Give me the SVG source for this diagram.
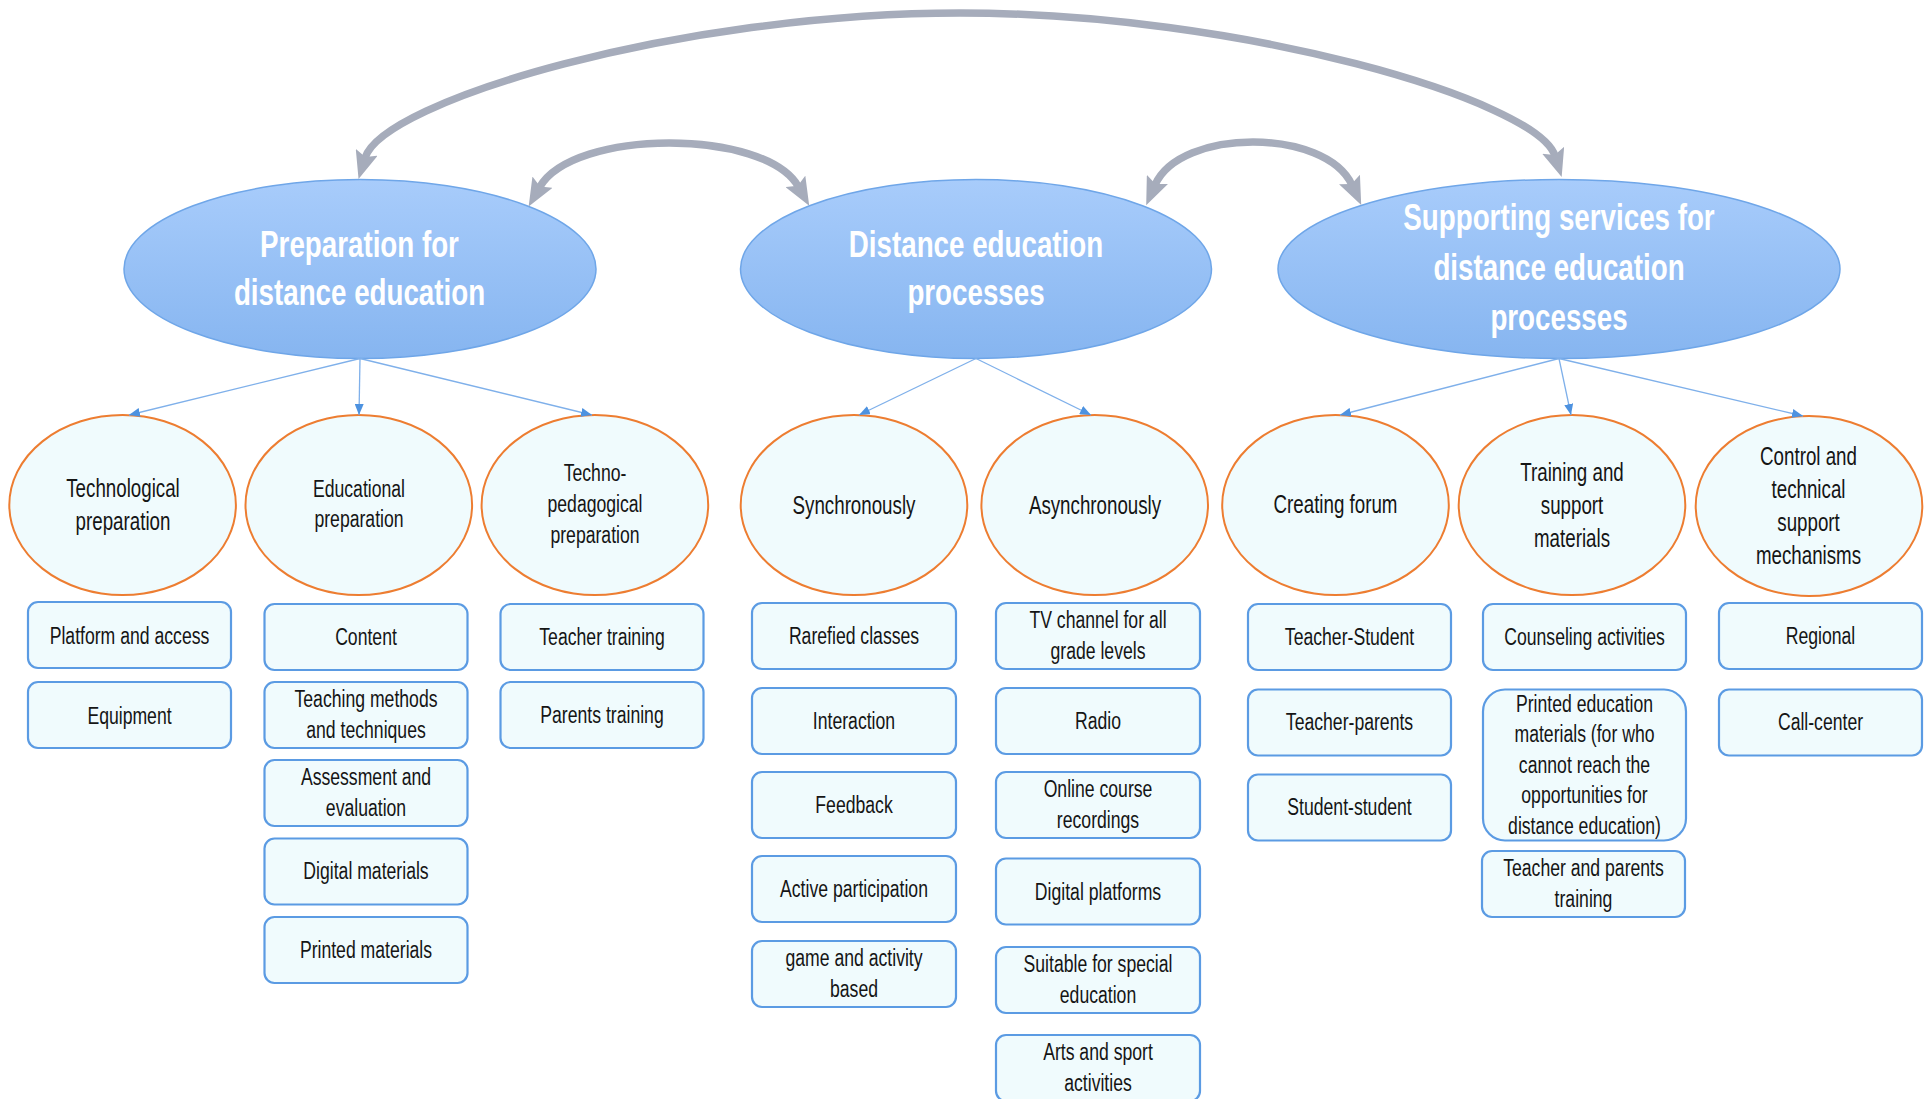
<svg xmlns="http://www.w3.org/2000/svg" width="1925" height="1099" viewBox="0 0 1925 1099">
<defs>
<linearGradient id="gMain" x1="0" y1="0" x2="0" y2="1">
<stop offset="0" stop-color="#a8ccfb"/>
<stop offset="1" stop-color="#86b5f0"/>
</linearGradient>
<marker id="gh" markerUnits="userSpaceOnUse" markerWidth="29" markerHeight="23" refX="6" refY="11.5" orient="auto-start-reverse" viewBox="0 0 29 23">
<path d="M0,0 L28,11.5 L0,23 L5,11.5 Z" fill="#a6acbb"/>
</marker>
<marker id="ah" markerUnits="userSpaceOnUse" markerWidth="11" markerHeight="9" refX="11" refY="4.5" orient="auto" viewBox="0 0 11 9">
<path d="M0,0 L11,4.5 L0,9 Z" fill="#4d92e0"/>
</marker>
</defs>
<style>
text { font-family: "Liberation Sans", Arial, sans-serif; text-anchor: middle; fill: #151515; }
.hdr { font-weight: bold; font-size: 37px; fill: #ffffff; }
.ct { font-size: 25px; }
.cs { font-size: 23.5px; }
.bt { font-size: 23.5px; }
.main { fill: url(#gMain); stroke: #6fa6e8; stroke-width: 1.5; }
.sub { fill: #f0fbfd; stroke: #ed7d31; stroke-width: 2; }
.box { fill: #f0fbfd; stroke: #5b9be3; stroke-width: 2.2; }
.link { stroke: #7fb0ea; stroke-width: 1.3; fill: none; marker-end: url(#ah); }
.big { stroke: #a6acbb; stroke-width: 7.5; fill: none; marker-start: url(#gh); marker-end: url(#gh); }
</style>
<rect width="1925" height="1099" fill="#ffffff"/>

<!-- Main ellipses -->
<g id="prep">
<ellipse class="main" cx="360" cy="269" rx="236" ry="89.5"/>
<g transform="translate(359.5 0) scale(0.75 1)"><text class="hdr" x="0" y="256.7">Preparation for</text><text class="hdr" x="0" y="305">distance education</text></g>
</g>
<g id="process">
<ellipse class="main" cx="976" cy="269" rx="235.5" ry="89.5"/>
<g transform="translate(976 0) scale(0.75 1)"><text class="hdr" x="0" y="256.7">Distance education</text><text class="hdr" x="0" y="305">processes</text></g>
</g>
<g id="support">
<ellipse class="main" cx="1559" cy="269" rx="281" ry="89.5"/>
<g transform="translate(1559 0) scale(0.75 1)"><text class="hdr" x="0" y="230">Supporting services for</text><text class="hdr" x="0" y="280">distance education</text><text class="hdr" x="0" y="330">processes</text></g>
</g>

<!-- Sub circles -->
<g id="c-tech">
<ellipse class="sub" cx="122.6" cy="505" rx="113.3" ry="90"/>
<g transform="translate(123 0) scale(0.75 1)"><text class="ct" x="0" y="497">Technological</text><text class="ct" x="0" y="530">preparation</text></g>
</g>
<g id="c-edu">
<ellipse class="sub" cx="358.8" cy="505" rx="113.3" ry="90"/>
<g transform="translate(359 0) scale(0.75 1)"><text class="cs" x="0" y="497">Educational</text><text class="cs" x="0" y="527.5">preparation</text></g>
</g>
<g id="c-techped">
<ellipse class="sub" cx="594.9" cy="505" rx="113.3" ry="90"/>
<g transform="translate(595 0) scale(0.75 1)"><text class="cs" x="0" y="481.5">Techno-</text><text class="cs" x="0" y="512.5">pedagogical</text><text class="cs" x="0" y="543">preparation</text></g>
</g>
<g id="c-sync">
<ellipse class="sub" cx="854" cy="505" rx="113.3" ry="90"/>
<g transform="translate(854 0) scale(0.75 1)"><text class="ct" x="0" y="514">Synchronously</text></g>
</g>
<g id="c-async">
<ellipse class="sub" cx="1094.7" cy="505" rx="113.3" ry="90"/>
<g transform="translate(1095 0) scale(0.75 1)"><text class="ct" x="0" y="514.5">Asynchronously</text></g>
</g>
<g id="c-forum">
<ellipse class="sub" cx="1335.5" cy="505" rx="113.3" ry="90"/>
<g transform="translate(1335.5 0) scale(0.75 1)"><text class="ct" x="0" y="513">Creating forum</text></g>
</g>
<g id="c-training">
<ellipse class="sub" cx="1572" cy="505" rx="113.3" ry="90"/>
<g transform="translate(1572 0) scale(0.75 1)"><text class="ct" x="0" y="481">Training and</text><text class="ct" x="0" y="514">support</text><text class="ct" x="0" y="547">materials</text></g>
</g>
<g id="c-control">
<ellipse class="sub" cx="1809" cy="506" rx="113.3" ry="90"/>
<g transform="translate(1808.5 0) scale(0.75 1)"><text class="ct" x="0" y="465.5">Control and</text><text class="ct" x="0" y="498.5">technical</text><text class="ct" x="0" y="531.5">support</text><text class="ct" x="0" y="564.5">mechanisms</text></g>
</g>

<!-- Column 1 boxes -->
<g id="b-platform"><rect class="box" x="28" y="602" width="203" height="66" rx="10"/><g transform="translate(129.5 0) scale(0.75 1)"><text class="bt" x="0" y="644">Platform and access</text></g></g>
<g id="b-equipment"><rect class="box" x="28" y="682" width="203" height="66" rx="10"/><g transform="translate(129.5 0) scale(0.75 1)"><text class="bt" x="0" y="724">Equipment</text></g></g>

<!-- Column 2 boxes -->
<g id="b-content"><rect class="box" x="264.5" y="604" width="203" height="66" rx="10"/><g transform="translate(366 0) scale(0.75 1)"><text class="bt" x="0" y="645">Content</text></g></g>
<g id="b-teaching"><rect class="box" x="264.5" y="682" width="203" height="66" rx="10"/><g transform="translate(366 0) scale(0.75 1)"><text class="bt" x="0" y="707.5">Teaching methods</text><text class="bt" x="0" y="738.3">and techniques</text></g></g>
<g id="b-assess"><rect class="box" x="264.5" y="760" width="203" height="66" rx="10"/><g transform="translate(366 0) scale(0.75 1)"><text class="bt" x="0" y="785.5">Assessment and</text><text class="bt" x="0" y="816.3">evaluation</text></g></g>
<g id="b-digital"><rect class="box" x="264.5" y="838.5" width="203" height="66" rx="10"/><g transform="translate(366 0) scale(0.75 1)"><text class="bt" x="0" y="879.5">Digital materials</text></g></g>
<g id="b-printed"><rect class="box" x="264.5" y="917" width="203" height="66" rx="10"/><g transform="translate(366 0) scale(0.75 1)"><text class="bt" x="0" y="958">Printed materials</text></g></g>

<!-- Column 3 boxes -->
<g id="b-teacher"><rect class="box" x="500.5" y="604" width="203" height="66" rx="10"/><g transform="translate(602 0) scale(0.75 1)"><text class="bt" x="0" y="645">Teacher training</text></g></g>
<g id="b-parents"><rect class="box" x="500.5" y="682" width="203" height="66" rx="10"/><g transform="translate(602 0) scale(0.75 1)"><text class="bt" x="0" y="723">Parents training</text></g></g>

<!-- Column 4 boxes -->
<g id="b-rarefied"><rect class="box" x="752" y="603" width="204" height="66" rx="10"/><g transform="translate(854 0) scale(0.75 1)"><text class="bt" x="0" y="644.5">Rarefied classes</text></g></g>
<g id="b-interaction"><rect class="box" x="752" y="688" width="204" height="66" rx="10"/><g transform="translate(854 0) scale(0.75 1)"><text class="bt" x="0" y="729.5">Interaction</text></g></g>
<g id="b-feedback"><rect class="box" x="752" y="772" width="204" height="66" rx="10"/><g transform="translate(854 0) scale(0.75 1)"><text class="bt" x="0" y="813.5">Feedback</text></g></g>
<g id="b-active"><rect class="box" x="752" y="856" width="204" height="66" rx="10"/><g transform="translate(854 0) scale(0.75 1)"><text class="bt" x="0" y="897.5">Active participation</text></g></g>
<g id="b-game"><rect class="box" x="752" y="941" width="204" height="66" rx="10"/><g transform="translate(854 0) scale(0.75 1)"><text class="bt" x="0" y="966.5">game and activity</text><text class="bt" x="0" y="997.3">based</text></g></g>

<!-- Column 5 boxes -->
<g id="b-tv"><rect class="box" x="996" y="603" width="204" height="66" rx="10"/><g transform="translate(1098 0) scale(0.75 1)"><text class="bt" x="0" y="628.5">TV channel for all</text><text class="bt" x="0" y="659.3">grade levels</text></g></g>
<g id="b-radio"><rect class="box" x="996" y="688" width="204" height="66" rx="10"/><g transform="translate(1098 0) scale(0.75 1)"><text class="bt" x="0" y="729.5">Radio</text></g></g>
<g id="b-online"><rect class="box" x="996" y="772" width="204" height="66" rx="10"/><g transform="translate(1098 0) scale(0.75 1)"><text class="bt" x="0" y="797.5">Online course</text><text class="bt" x="0" y="828.3">recordings</text></g></g>
<g id="b-platforms"><rect class="box" x="996" y="858.5" width="204" height="66" rx="10"/><g transform="translate(1098 0) scale(0.75 1)"><text class="bt" x="0" y="900">Digital platforms</text></g></g>
<g id="b-special"><rect class="box" x="996" y="947" width="204" height="66" rx="10"/><g transform="translate(1098 0) scale(0.75 1)"><text class="bt" x="0" y="972.5">Suitable for special</text><text class="bt" x="0" y="1003.3">education</text></g></g>
<g id="b-arts"><rect class="box" x="996" y="1035" width="204" height="66" rx="10"/><g transform="translate(1098 0) scale(0.75 1)"><text class="bt" x="0" y="1060.5">Arts and sport</text><text class="bt" x="0" y="1091.3">activities</text></g></g>

<!-- Column 6 boxes -->
<g id="b-ts"><rect class="box" x="1248" y="604" width="203" height="66" rx="10"/><g transform="translate(1349.5 0) scale(0.75 1)"><text class="bt" x="0" y="645">Teacher-Student</text></g></g>
<g id="b-tp"><rect class="box" x="1248" y="689.5" width="203" height="66" rx="10"/><g transform="translate(1349.5 0) scale(0.75 1)"><text class="bt" x="0" y="730.5">Teacher-parents</text></g></g>
<g id="b-ss"><rect class="box" x="1248" y="774.5" width="203" height="66" rx="10"/><g transform="translate(1349.5 0) scale(0.75 1)"><text class="bt" x="0" y="815.5">Student-student</text></g></g>

<!-- Column 7 boxes -->
<g id="b-counsel"><rect class="box" x="1483" y="604" width="203" height="66" rx="10"/><g transform="translate(1584.5 0) scale(0.75 1)"><text class="bt" x="0" y="645">Counseling activities</text></g></g>
<g id="b-printed-edu"><rect class="box" x="1483" y="689.5" width="203" height="151" rx="22"/><g transform="translate(1584.5 0) scale(0.75 1)"><text class="bt" x="0" y="712">Printed education</text><text class="bt" x="0" y="742.5">materials (for who</text><text class="bt" x="0" y="773">cannot reach the</text><text class="bt" x="0" y="803.5">opportunities for</text><text class="bt" x="0" y="834">distance education)</text></g></g>
<g id="b-tpt"><rect class="box" x="1482" y="851" width="203" height="66" rx="10"/><g transform="translate(1583.5 0) scale(0.75 1)"><text class="bt" x="0" y="876.5">Teacher and parents</text><text class="bt" x="0" y="907.3">training</text></g></g>

<!-- Column 8 boxes -->
<g id="b-regional"><rect class="box" x="1719" y="603" width="203" height="66" rx="10"/><g transform="translate(1820.5 0) scale(0.75 1)"><text class="bt" x="0" y="644.5">Regional</text></g></g>
<g id="b-callcenter"><rect class="box" x="1719" y="689.5" width="203" height="66" rx="10"/><g transform="translate(1820.5 0) scale(0.75 1)"><text class="bt" x="0" y="730.5">Call-center</text></g></g>

<!-- Connectors -->
<g id="connectors">
<line class="link" x1="360" y1="358.5" x2="129" y2="415"/>
<line class="link" x1="360" y1="358.5" x2="359" y2="415"/>
<line class="link" x1="360" y1="358.5" x2="592" y2="415"/>
<line class="link" x1="976" y1="358.5" x2="859" y2="415"/>
<line class="link" x1="976" y1="358.5" x2="1091" y2="415"/>
<line class="link" x1="1559" y1="358.5" x2="1340" y2="415"/>
<line class="link" x1="1559" y1="358.5" x2="1571" y2="415"/>
<line class="link" x1="1559" y1="358.5" x2="1803" y2="416"/>
<path class="big" d="M365,158 C382.6,100.6 680,13 960,13 C1240,13 1537.4,100.6 1555,156"/>
<path class="big" d="M539.5,187.4 C573,128.3 765,128.3 798.3,186.6"/>
<path class="big" d="M1155,185 C1180,127.7 1325.6,127.7 1352,185"/>
</g>
</svg>
